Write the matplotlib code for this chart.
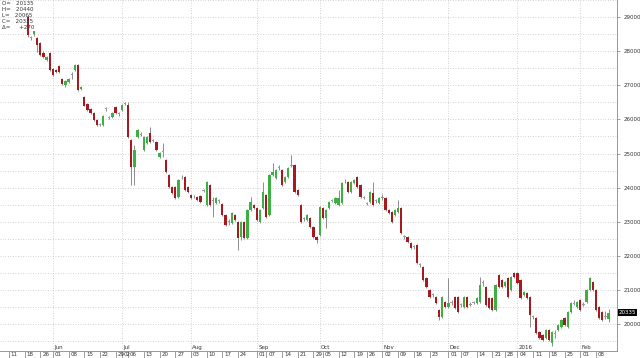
import numpy as np
import pandas as pd
import matplotlib
matplotlib.use('Agg')
import matplotlib.pyplot as plt
import matplotlib.transforms as mtransforms

# daily candles, first one on 19 May 2015
opens = [29000, 28390, 28500, 28390, 28240, 27950, 27740, 27950, 27480, 27450,
         27570, 27190, 27000, 27100, 27300, 27450, 27600, 26890, 26660, 26450,
         26300, 26190, 25980, 25850, 25840, 26300, 26050, 26070, 26360, 26150,
         26280, 26460, 26420, 25400, 24600, 25480, 25550, 25100, 25310, 25600,
         25370, 25340, 24900, 25050, 24810, 24370, 24020, 24020, 23720, 24300,
         24310, 24020, 23780, 23740, 23720, 23750, 23900, 23490, 24080, 23600,
         23550, 23600, 23520, 23200, 23000, 22960, 23200, 22990, 22550, 22990,
         22520, 23340, 23490, 23400, 22990, 23400, 23780, 23200, 24370, 24280,
         24570, 24520, 24160, 24310, 24640, 24660, 23930, 23490, 23080, 23050,
         23110, 22840, 22550, 22610, 23400, 23110, 23400, 23620, 23550, 23490,
         23550, 24180, 24160, 23870, 24140, 24310, 24080, 23710, 23530, 23580,
         23840, 23600, 23550, 23700, 23700, 23340, 23280, 23200, 23280, 23400,
         22550, 22550, 22380, 22250, 22320, 21730, 21670, 21350, 21000, 20850,
         20790, 20410, 20200, 20650, 20500, 20620, 20790, 20790, 20560, 20500,
         20790, 20570, 20630, 20620, 20650, 21200, 21090, 20760, 20760, 20410,
         21440, 21290, 21110, 21350, 21000, 21500, 21500, 21290, 20850, 20910,
         20790, 20200, 20180, 19770, 19680, 19590, 19820, 19440, 19700, 19820,
         19910, 20180, 19910, 20350, 20600, 20500, 20700, 20570, 20650, 21000,
         21230, 21000, 20500, 20350, 20200, 20135]
highs = [29060, 28440, 28600, 28420, 28280, 28000, 27860, 27990, 27520, 27480,
         27610, 27220, 27160, 27220, 27380, 27640, 27630, 26980, 26700, 26480,
         26330, 26220, 26010, 25900, 26130, 26360, 26100, 26230, 26400, 26220,
         26460, 26520, 26500, 25430, 25250, 25720, 25620, 25510, 25500, 25780,
         25420, 25370, 25050, 25300, 24840, 24400, 24050, 24050, 24250, 24380,
         24340, 24050, 23810, 23790, 23750, 23780, 23950, 24190, 24110, 23720,
         23730, 23680, 23550, 23230, 23080, 23290, 23230, 23020, 23020, 23020,
         23370, 23730, 23520, 23430, 23370, 24160, 23810, 24400, 24720, 24550,
         24650, 24550, 24340, 24600, 24960, 24690, 23960, 23520, 23130, 23230,
         23140, 22870, 22580, 23460, 23430, 23370, 23610, 23680, 23730, 23930,
         24170, 24250, 24190, 24190, 24250, 24340, 24110, 23760, 23590, 23900,
         24160, 23660, 23730, 23800, 23730, 23370, 23310, 23370, 23640, 23430,
         22610, 22580, 22410, 22330, 22350, 21790, 21700, 21380, 21030, 20920,
         20820, 20440, 20820, 20680, 21350, 20700, 20820, 20820, 20620, 20820,
         20820, 20640, 20680, 20790, 21380, 21290, 21120, 20790, 20790, 21170,
         21470, 21320, 21250, 21380, 21410, 21530, 21530, 21320, 20970, 20940,
         20820, 20260, 20210, 19800, 19710, 19850, 19850, 19800, 19820, 20000,
         20150, 20210, 20380, 20650, 20700, 20680, 20730, 20640, 21030, 21380,
         21260, 21030, 20530, 20380, 20380, 20440]
lows = [28420, 28330, 28460, 27980, 27860, 27800, 27700, 27420, 27260, 27370,
        27360, 27010, 26960, 27080, 27200, 27420, 26840, 26860, 26380, 26250,
        26170, 25960, 25820, 25800, 25810, 26250, 26000, 26040, 26160, 26100,
        26250, 26420, 25450, 24080, 24080, 25450, 25500, 25060, 25280, 25320,
        25330, 25080, 24870, 24900, 24440, 24000, 23820, 23680, 23700, 24260,
        23910, 23850, 23680, 23700, 23620, 23560, 23860, 23460, 23470, 23140,
        23520, 23550, 23180, 22880, 22900, 22940, 23030, 22170, 22450, 22500,
        22490, 23310, 23380, 23030, 22970, 23380, 23120, 23180, 24350, 24260,
        24520, 24060, 24140, 24290, 24600, 23850, 23760, 22970, 23030, 23030,
        22820, 22530, 22380, 22590, 23090, 22820, 23380, 23580, 23530, 23470,
        23530, 24140, 23850, 23850, 24120, 24000, 23700, 23670, 23480, 23560,
        23470, 23550, 23530, 23650, 23320, 23240, 22970, 23180, 23260, 22650,
        22500, 22380, 22210, 22190, 21770, 21680, 21270, 21070, 20770, 20800,
        20600, 20120, 20180, 20480, 20480, 20550, 20450, 20330, 20500, 20480,
        20480, 20520, 20580, 20600, 20630, 21120, 20540, 20450, 20390, 20390,
        21070, 21070, 21090, 20770, 20980, 21360, 21180, 20740, 20830, 20740,
        19910, 20150, 19720, 19570, 19510, 19570, 19510, 19350, 19600, 19800,
        19890, 19950, 19890, 20330, 20550, 20480, 20390, 20520, 20630, 20980,
        20980, 20390, 20160, 20100, 20150, 20065]
closes = [28470, 28390, 28580, 28180, 27890, 27830, 27830, 27450, 27300, 27390,
          27390, 27040, 27130, 27190, 27300, 27600, 26860, 26950, 26400, 26280,
          26190, 25980, 25840, 25850, 26100, 26300, 26050, 26190, 26190, 26150,
          26420, 26460, 25480, 24600, 25100, 25690, 25550, 25480, 25480, 25340,
          25370, 25100, 25020, 25050, 24460, 24020, 23840, 23700, 24220, 24300,
          23930, 23870, 23700, 23740, 23640, 23580, 23900, 24160, 23490, 23600,
          23700, 23600, 23200, 22900, 23000, 23260, 23050, 22520, 22990, 22520,
          23340, 23580, 23400, 23050, 23340, 23870, 23140, 24370, 24460, 24520,
          24570, 24080, 24310, 24570, 24640, 23870, 23780, 22990, 23080, 23200,
          22840, 22550, 22460, 23430, 23110, 23340, 23580, 23620, 23700, 23700,
          24140, 24180, 23870, 24160, 24220, 24020, 23720, 23710, 23530, 23870,
          23490, 23600, 23700, 23700, 23340, 23260, 22990, 23340, 23400, 22670,
          22550, 22400, 22230, 22250, 21790, 21730, 21290, 21090, 20790, 20850,
          20620, 20200, 20790, 20500, 20620, 20620, 20470, 20350, 20560, 20790,
          20500, 20570, 20630, 20760, 21140, 21200, 20560, 20470, 20410, 21140,
          21090, 21090, 21230, 20790, 21380, 21380, 21200, 20760, 20940, 20760,
          20260, 20200, 19740, 19590, 19530, 19820, 19530, 19770, 19700, 19970,
          20120, 19970, 20350, 20620, 20600, 20650, 20410, 20570, 21000, 21350,
          21000, 20410, 20180, 20120, 20200, 20335]

holidays = ['2015-05-25', '2015-07-01', '2015-09-03', '2015-09-28',
            '2015-10-01', '2015-10-21', '2015-12-25', '2016-01-01']
axis_start = '2015-05-11'
lead_days = 6  # trading days on the axis before the first candle
yticks = [20000, 21000, 22000, 23000, 24000, 25000, 26000, 27000, 28000, 29000]
info_lines = ['O=   20135', 'H=   20440', 'L=   20065', 'C=   20335', '\u0394=     +270']
last_label = '20335'

UP = '#3cb043'
DOWN = '#a8191f'
FLAT = '#9a9a9a'
WICK = '#8c8c8c'
GRID = '#c4c4c4'
TXT = '#333333'
FS = 4.0

n = len(closes)
dates = pd.bdate_range(axis_start, periods=n + lead_days, freq='C', holidays=holidays)
pos = np.arange(n) + lead_days

fig = plt.figure(figsize=(6.4, 3.58), dpi=100)
ax = fig.add_axes([0, 7 / 358, 617 / 640, 351 / 358])

o = np.array(opens)
h = np.array(highs)
l = np.array(lows)
c = np.array(closes)
colors = np.where(c > o, UP, np.where(c < o, DOWN, FLAT))

ax.vlines(pos, l, h, color=WICK, lw=0.7, zorder=2)
body_lo = np.minimum(o, c)
body_h = np.maximum(np.abs(c - o), 25)
ax.bar(pos, body_h, bottom=body_lo, width=0.72, color=colors, lw=0, zorder=3)

ax.set_xlim(-2.83, 193.7)
ax.set_ylim(19208, 29503)

# horizontal dotted grid every 500
for v in range(19500, 29501, 500):
    ax.axhline(v, color=GRID, lw=0.6, ls=(0, (1, 2)), zorder=1)

# date labels: first trading day of each month and of each week,
# when two fall on neighbouring days only the later one is kept
months = dates.month
weeks = dates.isocalendar().week.values
month_idx = [i for i in range(1, len(dates)) if months[i] != months[i - 1]]
week_idx = [0] + [i for i in range(1, len(dates)) if weeks[i] != weeks[i - 1]]
cand = sorted(set(month_idx) | set(week_idx))
label_idx = [i for k, i in enumerate(cand) if k == len(cand) - 1 or cand[k + 1] - i > 1]

trans = ax.get_xaxis_transform()
for i in month_idx:
    d = dates[i]
    ax.axvline(i, color=GRID, lw=0.6, ls=(0, (1, 2)), zorder=1)
    name = str(d.year) if d.month == 1 else d.strftime('%b')
    ax.text(i + 0.4, 0.004, name, transform=trans, ha='left', va='bottom',
            fontsize=FS, color=TXT)
for i in label_idx:
    ax.text(i + 0.6, -0.004, dates[i].strftime('%d'), transform=trans,
            ha='left', va='top', fontsize=FS, color=TXT, clip_on=False)

ax.set_xticks(label_idx)
ax.set_xticklabels([])
ax.tick_params(axis='x', direction='out', length=5, width=0.5, color='#777777')

ax.yaxis.tick_right()
ax.set_yticks(yticks)
ax.set_yticklabels([str(v) for v in yticks], fontsize=FS, color=TXT)
ax.tick_params(axis='y', direction='out', length=2, width=0.5, color='#777777', pad=3)

for s in ['top', 'left']:
    ax.spines[s].set_visible(False)
for s in ['bottom', 'right']:
    ax.spines[s].set_color('#888888')
    ax.spines[s].set_linewidth(0.6)

# price info at top left
ax.text(0.003, 0.997, '\n'.join(info_lines), transform=ax.transAxes, ha='left',
        va='top', fontsize=FS, color=TXT, linespacing=1.25)

# last price tag on the right axis
tag = mtransforms.blended_transform_factory(ax.transAxes, ax.transData)
ax.text(1.003, closes[-1], last_label, transform=tag, ha='left', va='center',
        fontsize=FS, color='white', clip_on=False,
        bbox=dict(boxstyle='square,pad=0.2', fc='black', ec='none'))

fig.savefig('out.png', dpi=100)
